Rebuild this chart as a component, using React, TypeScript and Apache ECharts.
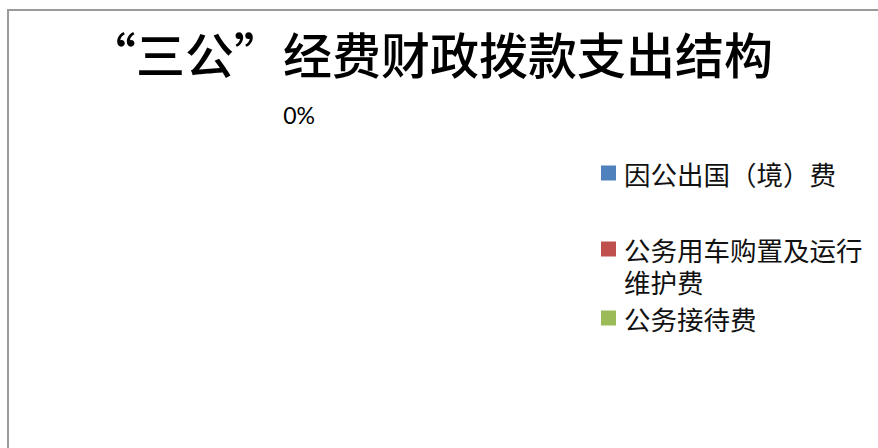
import React, { useEffect, useRef } from "react";
import * as echarts from "echarts";

const titleText = "“三公”经费财政拨款支出结构";
const categories = ["因公出国（境）费", "公务用车购置及运行维护费", "公务接待费"];
const legendLabels = ["因公出国（境）费", "公务用车购置及运行\n维护费", "公务接待费"];
const values = [0, 0, 0];
const colors = ["#4F81BD", "#C0504D", "#9BBB59"];
const legendTops = [159.75, 233, 304.75];

export default function App() {
  const ref = useRef<HTMLDivElement>(null);
  useEffect(() => {
    if (!ref.current) return;
    const chart = echarts.init(ref.current, null, { renderer: "svg" });
    const cjk = '"Noto Sans CJK SC", "Noto Sans", sans-serif';
    const tallIcon = "path://M0 0H15V15H0Z M0 47H15V47H0Z";
    const option: any = {
      animation: false,
      backgroundColor: "#ffffff",
      title: {
        text: titleText,
        left: 87,
        top: 28,
        padding: 0,
        textStyle: { fontFamily: cjk, fontSize: 49, fontWeight: 500, color: "#000" },
      },
      graphic: [
        {
          type: "rect",
          shape: { x: 8, y: 10, width: 900, height: 500 },
          style: { fill: "none", stroke: "#9a9a9a", lineWidth: 2 },
          silent: true,
        },
      ],
      legend: categories.map((name, i) => ({
        show: true,
        orient: "vertical",
        left: 601,
        top: legendTops[i],
        padding: 0,
        icon: i === 1 ? tallIcon : "rect",
        itemWidth: 15,
        itemHeight: i === 1 ? 47 : 15,
        data: [name],
        selectedMode: false,
        formatter: () => legendLabels[i],
        textStyle: {
          fontFamily: cjk,
          fontSize: 26.5,
          lineHeight: i === 1 ? 32 : undefined,
          color: "#111",
          padding: [0, 0, 0, 3],
        },
      })),
      series: [
        {
          type: "pie",
          center: [320, 255],
          radius: 140,
          startAngle: 90,
          stillShowZeroSum: false,
          showEmptyCircle: false,
          avoidLabelOverlap: false,
          itemStyle: { borderWidth: 0 },
          label: {
            show: true,
            position: "outside",
            fontFamily: "Lato, sans-serif",
            fontSize: 23,
            color: "#000",
          },
          labelLine: { show: false, length: 0, length2: 0 },
          data: categories.map((name, i) => ({
            name,
            value: values[i],
            itemStyle: { color: colors[i] },
            label: { show: i === 0, formatter: "{d}%" },
          })),
        },
      ],
    };
    chart.setOption(option);
    return () => chart.dispose();
  }, []);
  return (
    <div
      ref={ref}
      style={{ position: "absolute", left: 0, top: 0, width: 878, height: 448 }}
    />
  );
}
